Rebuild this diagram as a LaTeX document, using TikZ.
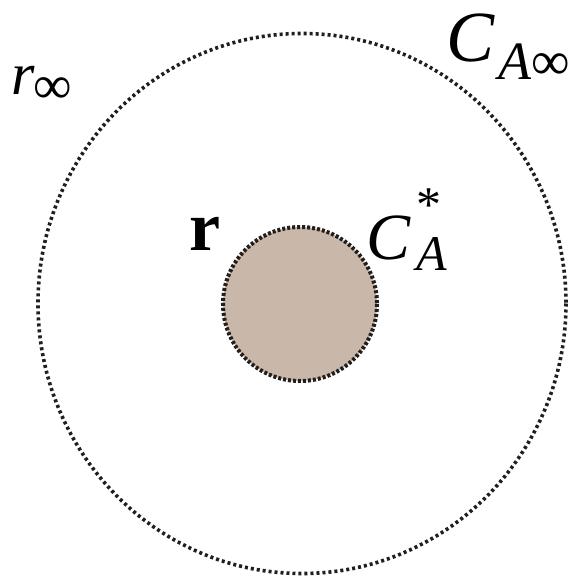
\documentclass[tikz,border=0pt]{standalone}
\usepackage{fontspec}
\setmainfont{Liberation Serif}
\definecolor{dotink}{RGB}{34,30,28}
\definecolor{coreFill}{RGB}{201,184,170}
\tikzset{
  outerring/.style={draw=dotink, line width=3.6bp, line cap=butt, dash pattern=on 3bp off 3bp},
  innerring/.style={draw=dotink, fill=coreFill, line width=4bp, line cap=butt, dash pattern=on 3bp off 2bp},
  lbl/.style={inner sep=0pt, outer sep=0pt, anchor=base west, text=black}
}
\begin{document}
\begin{tikzpicture}[x=1bp,y=-1bp]
\useasboundingbox (0,0) rectangle (571,580);
\path[outerring] (302,303.5) ellipse [x radius=264, y radius=270];
\path[innerring] (300,304) circle [radius=77];
\node[lbl] (rinf) at (11,95) {\fontsize{60bp}{66bp}\selectfont\textit{r}\kern-1bp\raisebox{-9bp}{\fontsize{54bp}{60bp}\selectfont ∞}};
\node[lbl] (cainf) at (446,62) {\fontsize{72bp}{80bp}\selectfont\textit{C}\kern 4bp\raisebox{-18bp}{\fontsize{54bp}{60bp}\selectfont\textit{A}∞}};
\node[lbl] (rbold) at (189,250) {\fontsize{70bp}{80bp}\selectfont\textbf{r}};
\node[lbl] (cstar) at (366,259) {\fontsize{66bp}{74bp}\selectfont\textit{C}\kern 6bp\rlap{\raisebox{-11bp}{\fontsize{50bp}{56bp}\selectfont\textit{A}}}\raisebox{38bp}{\fontsize{50bp}{56bp}\selectfont *}};
\end{tikzpicture}
\end{document}
